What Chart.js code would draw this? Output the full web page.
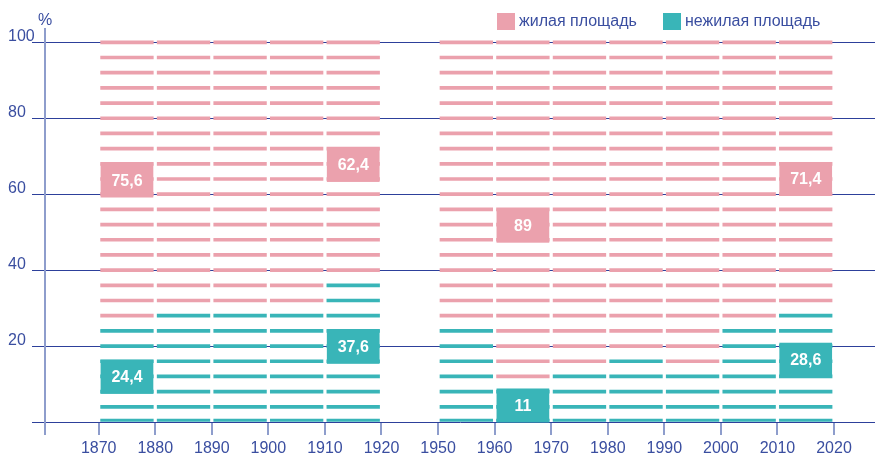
<!DOCTYPE html>
<html lang="ru">
<head>
<meta charset="utf-8">
<title>Жилая и нежилая площадь</title>
<script src="https://cdn.jsdelivr.net/npm/chart.js@4.4.1/dist/chart.umd.min.js"></script>
<style>
  html, body { margin: 0; padding: 0; background: #fff; }
  #wrap { width: 875px; height: 456px; }
</style>
</head>
<body>
<div id="wrap"><canvas id="areaChart"></canvas></div>
<script>
  // годы на оси X (между 1920 и 1950 пустой промежуток)
  const yearTicks = [1870, 1880, 1890, 1900, 1910, 1920, 1950, 1960, 1970, 1980, 1990, 2000, 2010, 2020];
  // начало периода каждого столбика
  const periodStart = [1870, 1880, 1890, 1900, 1910, 1950, 1960, 1970, 1980, 1990, 2000, 2010];
  // доли площади, %
  const residential    = [75.6, 71, 71, 71, 62.4, 75, 89, 87, 83, 87, 75, 71.4];
  const nonResidential = [24.4, 29, 29, 29, 37.6, 25, 11, 13, 17, 13, 25, 28.6];
  // уровни полосок, %
  const stripeLevels = [0.4, 4, 8, 12, 16, 20, 24, 28, 32, 36, 40, 44, 48, 52, 56, 60, 64, 68, 72, 76, 80, 84, 88, 92, 96, 100];
  const yTicks = [0, 20, 40, 60, 80, 100];
  const seriesNames = ['жилая площадь', 'нежилая площадь'];

  const PINK = '#eba1ad';
  const TEAL = '#39b5b8';
  const GRID = '#2d409b';
  const AXIS = '#8e9dcc';
  const TEXT = '#3a4ea0';
  const FONT = '"Liberation Sans", Arial, sans-serif';

  // подписи-плашки: столбик, ряд (0 жилая, 1 нежилая), высота центра в %
  const valueBoxes = [
    { bar: 0, series: 0, at: 63.6 },
    { bar: 0, series: 1, at: 11.9 },
    { bar: 4, series: 0, at: 67.7 },
    { bar: 4, series: 1, at: 19.8 },
    { bar: 6, series: 0, at: 51.7 },
    { bar: 6, series: 1, at: 4.35 },
    { bar: 11, series: 0, at: 64.0 },
    { bar: 11, series: 1, at: 16.4 }
  ];

  const datasets = stripeLevels.map(level => ({
    data: periodStart.map(start => ({ x: yearTicks.indexOf(start) + 0.5, y: [level - 0.4, level + 0.4] })),
    backgroundColor: nonResidential.map(v => level <= v ? TEAL : PINK),
    stack: 'stripes',
    barThickness: 52.7,
    borderWidth: 0
  }));

  const boxesPlugin = {
    id: 'valueBoxes',
    afterDatasetsDraw(chart) {
      const ctx = chart.ctx;
      const meta = chart.getDatasetMeta(0);
      const y = chart.scales.y;
      ctx.save();
      valueBoxes.forEach(b => {
        const bar = meta.data[b.bar];
        const cy = y.getPixelForValue(b.at);
        const h = 34;
        ctx.fillStyle = b.series === 0 ? PINK : TEAL;
        ctx.fillRect(bar.x - bar.width / 2, cy - h / 2, bar.width, h);
        const v = b.series === 0 ? residential[b.bar] : nonResidential[b.bar];
        ctx.fillStyle = '#fff';
        ctx.font = 'bold 16px ' + FONT;
        ctx.textAlign = 'center';
        ctx.textBaseline = 'middle';
        ctx.fillText(String(v).replace('.', ','), bar.x, cy + 1);
      });
      ctx.restore();
    }
  };

  const legendPlugin = {
    id: 'stripeLegend',
    afterDraw(chart) {
      const ctx = chart.ctx;
      ctx.save();
      ctx.font = '16px ' + FONT;
      ctx.textBaseline = 'middle';
      ctx.textAlign = 'left';
      const items = [[497, PINK], [663, TEAL]];
      items.forEach(([x, c], i) => {
        ctx.fillStyle = c;
        ctx.fillRect(x, 13, 18, 17);
        ctx.fillStyle = TEXT;
        ctx.fillText(seriesNames[i], x + 22, 21.5);
      });
      ctx.textAlign = 'center';
      ctx.fillText('%', 45, 20.5);
      ctx.restore();
    }
  };

  new Chart(document.getElementById('areaChart'), {
    type: 'bar',
    data: { datasets },
    options: {
      responsive: true,
      maintainAspectRatio: false,
      animation: false,
      layout: { padding: { top: 29, left: 8, right: 0, bottom: 0 } },
      plugins: { legend: { display: false }, tooltip: { enabled: false } },
      scales: {
        x: {
          type: 'linear',
          offset: false,
          min: -0.949,
          max: 13.725,
          afterBuildTicks: axis => {
            axis.ticks = [{ value: axis.min }].concat(yearTicks.map((t, i) => ({ value: i })));
          },
          afterFit: axis => { axis.height = 34; },
          grid: { offset: false, drawOnChartArea: false, drawTicks: true, tickLength: 13, color: AXIS, lineWidth: 2 },
          border: { display: false },
          ticks: {
            autoSkip: false,
            maxRotation: 0,
            padding: 4,
            color: TEXT,
            font: { family: FONT, size: 16 },
            callback: value => Number.isInteger(value) ? yearTicks[value] : ''
          }
        },
        y: {
          min: 0,
          max: 103.5,
          stacked: false,
          afterBuildTicks: axis => { axis.ticks = yTicks.map(v => ({ value: v })); },
          afterFit: axis => { axis.width = 37; },
          grid: { color: GRID, lineWidth: 1, tickLength: 13 },
          border: { display: true, color: AXIS, width: 2 },
          ticks: {
            crossAlign: 'far',
            labelOffset: -5.5,
            color: TEXT,
            font: { family: FONT, size: 16 },
            callback: value => value === 0 ? '' : value
          }
        }
      }
    },
    plugins: [boxesPlugin, legendPlugin]
  });
</script>
</body>
</html>
